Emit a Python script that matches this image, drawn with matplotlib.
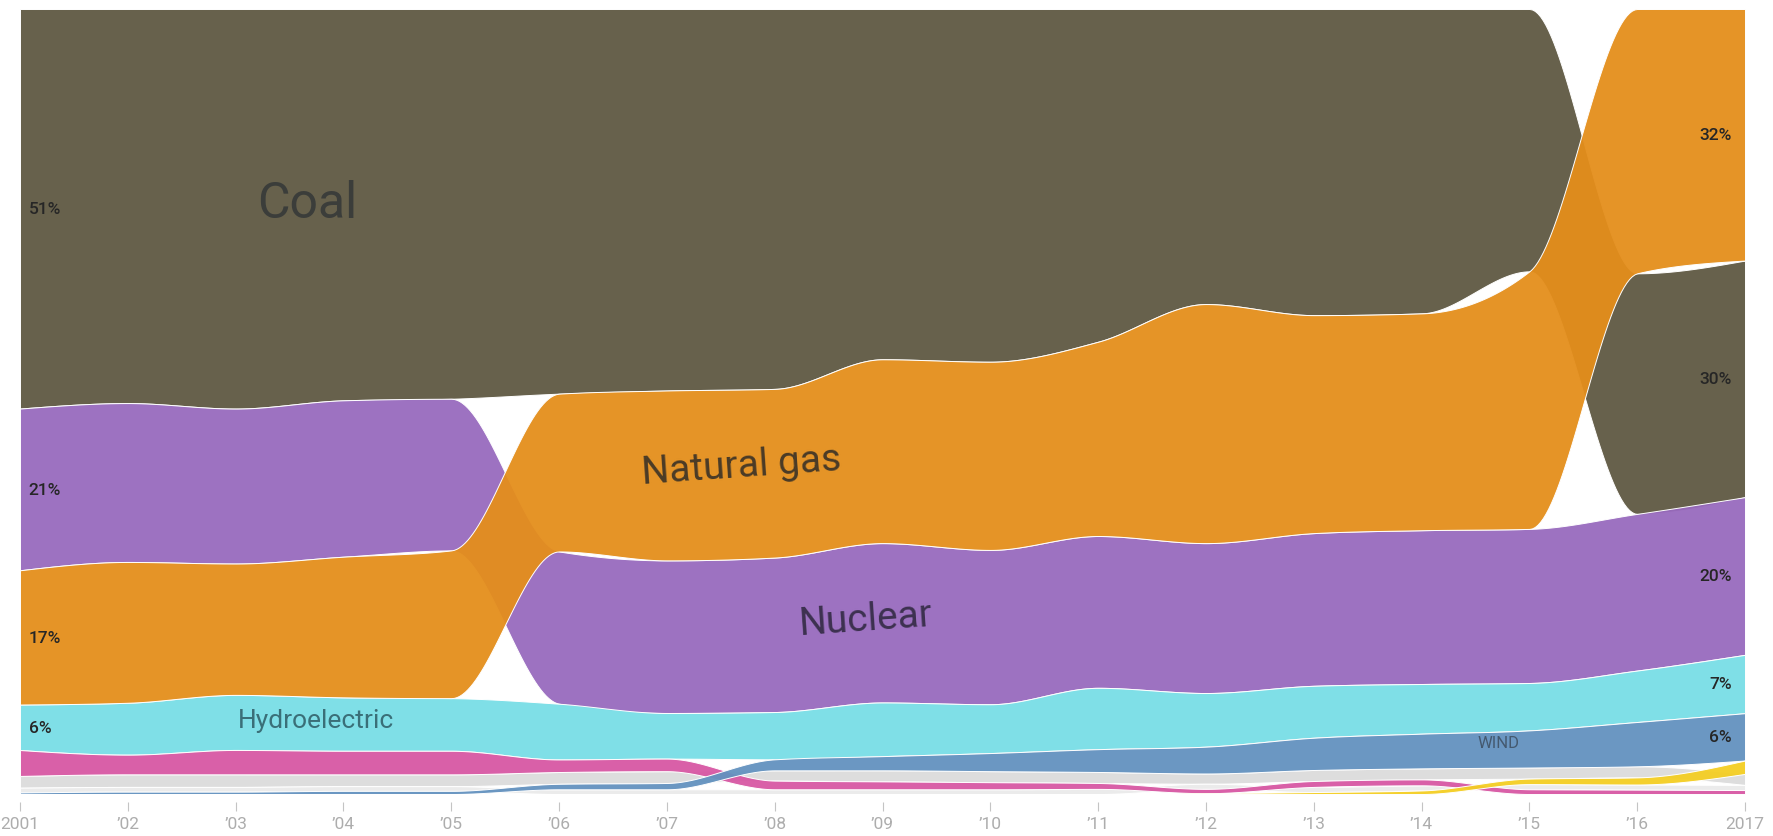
import numpy as np
import matplotlib
matplotlib.use("Agg")
from matplotlib import pyplot as plt
from matplotlib import colors as mcolors

plt.rcParams['font.family'] = ['Roboto', 'DejaVu Sans']

# Доли выработки электроэнергии по источникам, %
years = list(range(2001, 2018))
coal = [50.9, 50.1, 50.8, 49.8, 49.6, 49.0, 48.5, 48.2, 44.4, 44.8, 42.3, 37.4, 38.9, 38.6, 33.2, 30.4, 30.0]
natural_gas = [17.1, 17.9, 16.7, 17.9, 18.8, 20.1, 21.6, 21.4, 23.3, 23.9, 24.7, 30.3, 27.7, 27.5, 32.6, 33.4, 31.9]
nuclear = [20.6, 20.2, 19.7, 19.9, 19.3, 19.4, 19.4, 19.6, 20.2, 19.6, 19.3, 19.0, 19.4, 19.5, 19.5, 19.8, 20.0]
hydro = [5.8, 6.6, 7.0, 6.8, 6.7, 7.1, 5.8, 6.0, 6.8, 6.2, 7.8, 6.8, 6.6, 6.3, 6.0, 6.5, 7.4]
wind = [0.2, 0.3, 0.3, 0.4, 0.4, 0.7, 0.8, 1.4, 1.8, 2.3, 2.9, 3.4, 4.1, 4.4, 4.7, 5.6, 6.0]
solar = [0, 0, 0, 0, 0, 0, 0, 0, 0, 0, 0, 0.1, 0.25, 0.45, 0.7, 0.9, 1.7]
petroleum = [3.3, 2.5, 3.1, 3.0, 3.0, 1.6, 1.6, 1.1, 1.0, 0.9, 0.75, 0.55, 0.75, 0.75, 0.6, 0.55, 0.5]
biomass = [1.5, 1.6, 1.6, 1.5, 1.5, 1.5, 1.5, 1.3, 1.4, 1.4, 1.4, 1.3, 1.4, 1.4, 1.4, 1.4, 1.4]
other = [0.6, 0.6, 0.6, 0.6, 0.6, 0.6, 0.6, 0.6, 0.6, 0.6, 0.65, 0.65, 0.65, 0.65, 0.65, 0.65, 0.65]

names = ['Coal', 'Natural gas', 'Nuclear', 'Hydroelectric', 'Wind', 'Solar', 'Petroleum', 'Biomass', 'Other']
series = [coal, natural_gas, nuclear, hydro, wind, solar, petroleum, biomass, other]
colors = ['#67604b', '#e59426', '#9d71c1', '#7fe0e7', '#6b97c2', '#f5d02e', '#d95fa8', '#dedede', '#ebebeb']
tick_labels = ['2001'] + ['\u2019%02d' % (y % 100) for y in years[1:-1]] + ['2017']

vals = np.array(series, dtype=float)
vals = vals / vals.sum(axis=0) * 100

# каждый год - столбец, отсортированный по убыванию сверху вниз
n_src, n_yr = vals.shape
tops = np.zeros_like(vals)
for j in range(n_yr):
    order = sorted(range(n_src), key=lambda k: (-vals[k, j], k))
    level = 100.0
    for k in order:
        tops[k, j] = level
        level -= vals[k, j]
bots = tops - vals


def monotone_curve(x, y, n=40):
    # как d3.curveMonotoneX
    x = np.asarray(x, float)
    y = np.asarray(y, float)
    h = np.diff(x)
    s = np.diff(y) / h
    t = np.zeros_like(y)
    for i in range(1, len(y) - 1):
        s0, s1 = s[i - 1], s[i]
        p = (s0 * h[i] + s1 * h[i - 1]) / (h[i - 1] + h[i])
        t[i] = (np.sign(s0) + np.sign(s1)) * min(abs(s0), abs(s1), 0.5 * abs(p))
    t[0] = (3 * s[0] - t[1]) / 2
    t[-1] = (3 * s[-1] - t[-2]) / 2
    xs, ys = [], []
    for i in range(len(y) - 1):
        u = np.linspace(0, 1, n, endpoint=(i == len(y) - 2))
        hh = h[i]
        h00 = 2 * u**3 - 3 * u**2 + 1
        h10 = u**3 - 2 * u**2 + u
        h01 = -2 * u**3 + 3 * u**2
        h11 = u**3 - u**2
        ys.append(h00 * y[i] + h10 * hh * t[i] + h01 * y[i + 1] + h11 * hh * t[i + 1])
        xs.append(x[i] + u * hh)
    return np.concatenate(xs), np.concatenate(ys)


def faded(hexcol, a):
    c = np.array(mcolors.to_rgb(hexcol))
    c = np.clip((c - (1 - a)) / a, 0, 1)
    return (*c, a)


W, H = 1773, 837
fig = plt.figure(figsize=(W / 100, H / 100), dpi=100)
ax = fig.add_axes([20 / W, 42 / H, (1745 - 20) / W, 785 / H])

draw_order = ['Coal', 'Nuclear', 'Hydroelectric', 'Biomass', 'Other', 'Petroleum', 'Wind', 'Solar', 'Natural gas']
for z, name in enumerate(draw_order):
    k = names.index(name)
    xs, yt = monotone_curve(years, tops[k])
    _, yb = monotone_curve(years, bots[k])
    ax.fill_between(xs, yb, yt, facecolor=faded(colors[k], 0.95), edgecolor='white',
                    linewidth=0.7, zorder=2 + z)

ax.set_xlim(2001, 2017)
ax.set_ylim(0, 100)
for sp in ['top', 'left', 'right']:
    ax.spines[sp].set_visible(False)
ax.spines['bottom'].set_position(('outward', 6))
ax.spines['bottom'].set_visible(False)
ax.set_yticks([])
ax.set_xticks(years)
ax.set_xticklabels(tick_labels)
ax.tick_params(axis='x', length=6.5, width=0.8, color='#c4c4c4', pad=3,
               labelsize=12.5, labelcolor='#adadad')

# подписи источников
ax.text(2003.66, 75.3, 'Coal', fontsize=36, color='#3b3d3a',
        ha='center', va='center', zorder=20)
ax.text(2007.69, 41.9, 'Natural gas', fontsize=28, color='#4a3b26',
        ha='center', va='center', rotation=4, zorder=20)
ax.text(2008.85, 22.3, 'Nuclear', fontsize=28, color='#3d3150',
        ha='center', va='center', rotation=4, zorder=20)
ax.text(2003.75, 9.4, 'Hydroelectric', fontsize=19, color='#3a6f78',
        ha='center', va='center', zorder=20)
ax.text(2014.71, 6.6, 'WIND', fontsize=12, color='#44596f',
        ha='center', va='center', zorder=20)

# проценты в начале и в конце
for name in ['Coal', 'Nuclear', 'Natural gas', 'Hydroelectric']:
    k = names.index(name)
    ax.text(2001.08, (tops[k, 0] + bots[k, 0]) / 2, '%d%%' % round(vals[k, 0]),
            fontsize=12.5, fontweight='medium', color='#262626', ha='left', va='center', zorder=21)
for name in ['Natural gas', 'Coal', 'Nuclear', 'Hydroelectric', 'Wind']:
    k = names.index(name)
    ax.text(2016.88, (tops[k, -1] + bots[k, -1]) / 2, '%d%%' % round(vals[k, -1]),
            fontsize=12.5, fontweight='medium', color='#262626', ha='right', va='center', zorder=21)

fig.savefig('out.png', dpi=100)
